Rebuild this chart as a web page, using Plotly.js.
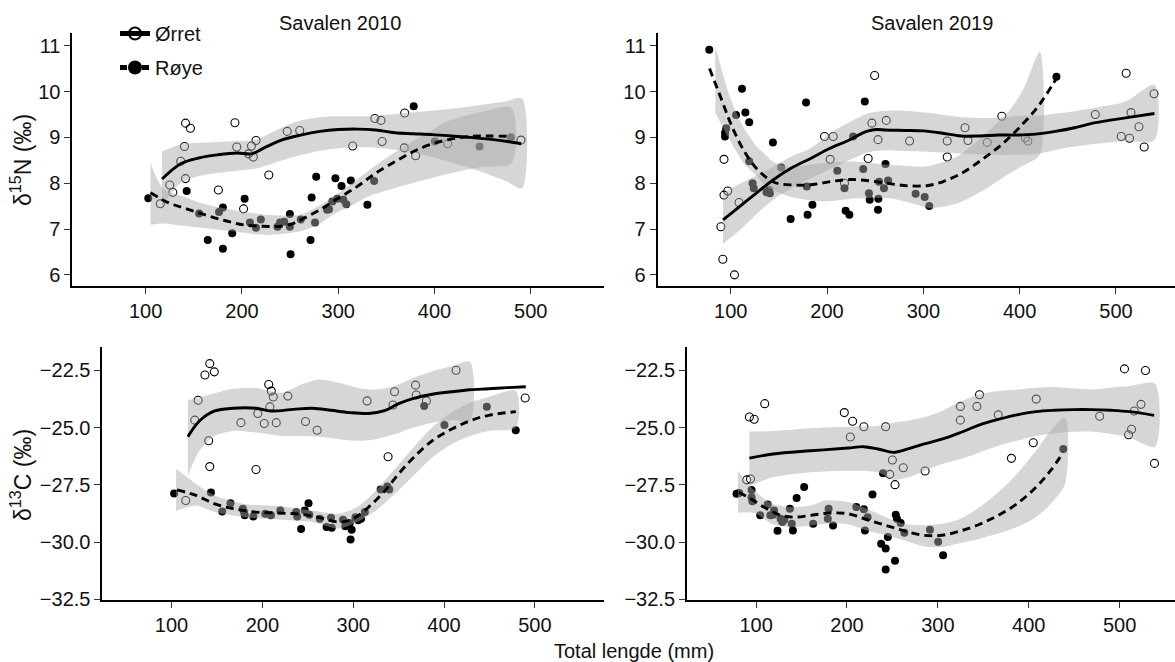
<!DOCTYPE html>
<html><head><meta charset="utf-8">
<script src="https://cdn.plot.ly/plotly-3.0.1.min.js"></script>
<style>html,body{margin:0;padding:0;background:#fff}#chart{width:1175px;height:662px}</style>
</head><body><div id="chart"></div>
<script>
// ---------- Panel 1: Savalen 2010, d15N ----------
const p1OrretX = [115.2,125,128.2,136.4,141.4,146.5,140.3,141.4,175.5,192.7,194.6,201.7,206.8,209.9,211.8,214.6,227.9,247,260,315,338,344.4,345.6,369,368.6,380.4,413.6,489.8];
const p1OrretY = [7.55,7.96,7.80,8.48,9.31,9.20,8.80,8.10,7.85,9.32,8.79,7.44,8.64,8.81,8.57,8.93,8.18,9.13,9.15,8.81,9.41,9.37,8.91,9.53,8.77,8.60,8.86,8.94];
const p1RoyeX = [102.7,142.6,155.5,164.5,176.2,180.2,180.2,189.9,202.8,208.3,214.6,219.6,236.9,239.6,243.9,249.8,249.8,250.5,261.1,271.3,272.4,275.9,277.1,288.5,290.4,293.9,297.1,299,303.4,305.3,308.4,313.1,330.3,337.3,378.4,400.3,446.8,479.3];
const p1RoyeY = [7.67,7.83,7.34,6.76,7.37,7.47,6.57,6.91,7.66,7.14,7.03,7.21,7.05,7.14,7.16,7.33,7.05,6.45,7.21,6.76,7.69,7.14,8.14,7.42,7.43,7.60,8.11,7.66,7.94,7.64,7.54,8.06,7.53,8.05,9.68,8.91,8.80,9.00];
const p1OrretFitX = [117,136,155,175,195,210,222,241,261,281,300,320,339,359,378,398,417,437,457,476,490];
const p1OrretFitY = [8.09,8.42,8.55,8.62,8.66,8.64,8.76,8.94,9.05,9.13,9.17,9.18,9.16,9.10,9.08,9.06,9.03,9.00,8.96,8.91,8.86];
const p1OrretBandX = [117,135,155,175,195,215,235,255,275,295,315,335,355,375,395,415,435,455,475,491];
const p1OrretBandLo = [7.50,7.98,8.15,8.22,8.27,8.32,8.45,8.58,8.68,8.75,8.78,8.78,8.74,8.68,8.58,8.47,8.35,8.20,8.04,7.89];
const p1OrretBandHi = [8.69,8.84,8.88,8.90,8.92,8.95,9.15,9.33,9.42,9.46,9.46,9.46,9.50,9.54,9.58,9.62,9.67,9.73,9.79,9.85];
const p1RoyeFitX = [105,124,144,163,183,202,222,241,253,261,281,300,320,339,359,378,398,417,437,457,479];
const p1RoyeFitY = [7.79,7.57,7.43,7.30,7.18,7.09,7.06,7.06,7.12,7.20,7.42,7.67,7.93,8.22,8.47,8.69,8.86,8.96,9.02,9.03,9.02];
const p1RoyeBandX = [105,118,139,160,190,225,260,280,295,312,330,360,395,413,447,480];
const p1RoyeBandHi = [8.45,7.89,7.71,7.55,7.42,7.31,7.31,7.50,7.71,7.96,8.25,8.69,9.13,9.35,9.55,9.64];
const p1RoyeBandLo = [7.09,7.12,7.07,7.02,6.95,6.87,6.95,7.10,7.32,7.49,7.70,7.90,8.10,8.20,8.35,8.44];

// ---------- Panel 2: Savalen 2019, d15N ----------
const p2OrretX = [89.8,91.8,103.9,93,93,96.9,108.6,197.4,206.4,203.2,218.1,242.7,246.6,249.4,252.9,261.5,285.7,324.8,324.8,343.2,346.3,366.3,381.5,405.8,408.5,478.5,505.5,510.6,514.1,515.6,523.9,529.3,539.5];
const p2OrretY = [7.05,6.34,6.00,8.52,7.74,7.83,7.58,9.02,9.02,8.52,8.00,8.54,9.31,10.35,8.95,9.37,8.92,8.92,8.57,9.21,8.93,8.89,9.46,8.99,8.92,9.50,9.02,10.40,8.98,9.54,9.23,8.79,9.95];
const p2RoyeX = [77.7,94.1,94.1,95.3,105.5,111.7,115.2,119.2,119.2,122.7,123.9,137.1,139.9,140.7,143.8,152.4,162.2,178.2,179,179.8,184.8,210.7,218.1,219.3,223.2,227.1,237.6,239.2,243.5,244.3,252.9,253.3,254,259.1,260.7,263.4,292,301.4,306.1,438.2];
const p2RoyeY = [10.91,9.02,9.10,9.20,9.49,10.06,9.54,9.33,8.48,8.00,7.89,7.80,7.85,7.78,8.89,8.34,7.22,9.76,7.93,7.31,7.53,8.27,7.89,7.40,7.31,9.02,8.31,9.78,7.78,7.64,7.42,7.66,8.03,7.89,8.42,8.06,7.77,7.70,7.50,10.32];
const p2OrretFitX = [92,105,124,144,163,183,202,222,241,251,261,281,300,320,339,359,378,398,417,437,457,476,496,515,540];
const p2OrretFitY = [7.20,7.42,7.74,8.07,8.33,8.54,8.75,8.93,9.13,9.17,9.16,9.15,9.14,9.09,9.03,9.03,9.05,9.05,9.07,9.13,9.21,9.31,9.38,9.44,9.52];
const p2OrretBandX = [92,108,124,144,163,183,206,225,244,262,280,307,335,369,400,420,450,480,510,540];
const p2OrretBandHi = [7.78,7.97,8.14,8.36,8.58,8.76,9.12,9.35,9.53,9.58,9.58,9.53,9.45,9.42,9.47,9.48,9.55,9.65,9.78,10.14];
const p2OrretBandLo = [6.68,6.95,7.27,7.64,7.89,8.10,8.33,8.52,8.68,8.72,8.70,8.68,8.65,8.62,8.62,8.65,8.78,8.86,8.92,8.94];
const p2RoyeFitX = [78,90,100,110,120,130,145,165,185,205,225,245,265,285,305,320,340,360,380,400,420,438];
const p2RoyeFitY = [10.50,9.85,9.30,8.85,8.50,8.25,8.02,7.96,7.97,8.04,8.08,8.05,7.99,7.94,7.95,8.03,8.22,8.50,8.82,9.22,9.70,10.28];
const p2RoyeBandX = [84,99,113,127,137,144,161,196,231,265,300,307,335,369,390,405,421];
const p2RoyeBandHi = [10.98,9.89,9.23,8.80,8.60,8.47,8.36,8.44,8.47,8.40,8.36,8.38,8.58,9.16,9.60,10.10,10.87];
const p2RoyeBandLo = [9.53,8.94,8.45,8.15,7.93,7.85,7.71,7.60,7.67,7.67,7.49,7.45,7.56,7.93,8.22,8.40,8.62];

// ---------- Panel 3: Savalen 2010, d13C ----------
const p3OrretX = [115.7,125.6,129.3,136.8,142.1,147.1,140.9,142.1,176.4,195,193,202.1,207,208.3,209.9,212,215.3,228.1,247.5,260.3,315.3,338.4,343.8,345.5,368.6,369.4,380.6,413.2,489.3];
const p3OrretY = [-28.18,-24.67,-23.80,-22.70,-22.20,-22.56,-25.57,-26.70,-24.78,-24.38,-26.83,-24.82,-23.11,-24.09,-23.40,-23.66,-24.78,-23.62,-24.73,-25.11,-23.83,-26.27,-24.01,-23.43,-23.14,-23.57,-23.83,-22.49,-23.70];
const p3RoyeX = [102.9,143.4,155.8,164.9,178.5,180.6,179.8,190.1,203.3,209.5,219.8,237.2,238.4,242.6,246.7,250.8,251.7,263.2,270.7,275.6,276.4,288.8,291.3,296.3,298.3,297.1,302.5,305.4,308.7,312.8,330.2,337.6,339.7,378.1,400.4,447.1,478.9];
const p3RoyeY = [-27.88,-27.83,-28.66,-28.30,-28.54,-28.83,-28.69,-28.88,-28.76,-28.83,-28.62,-28.69,-28.88,-29.43,-28.62,-28.30,-28.80,-28.98,-29.34,-28.94,-29.37,-29.02,-29.31,-29.17,-29.46,-29.89,-28.91,-29.05,-28.98,-28.69,-27.70,-27.57,-27.70,-24.05,-24.88,-24.09,-25.11];
const p3OrretFitX = [118,131,147.5,168,193,209.5,234,255,275.5,296,317,333.5,350,366.5,387,408,428.5,449,470,490];
const p3OrretFitY = [-25.40,-24.70,-24.27,-24.15,-24.15,-24.27,-24.20,-24.15,-24.24,-24.34,-24.38,-24.27,-23.95,-23.72,-23.54,-23.43,-23.34,-23.30,-23.25,-23.21];
const p3OrretBandX = [118,131,147.5,168,193,222,243,263,284,304.5,325,346,366.5,387,408,428.5];
const p3OrretBandHi = [-23.80,-23.68,-23.50,-23.30,-23.27,-23.47,-23.11,-22.89,-23.04,-23.25,-23.33,-23.18,-22.82,-22.53,-22.31,-22.12];
const p3OrretBandLo = [-27.09,-26.00,-25.36,-25.14,-25.21,-25.36,-25.36,-25.40,-25.50,-25.57,-25.50,-25.28,-24.99,-24.78,-24.67,-24.70];
const p3RoyeFitX = [106,127,147.5,168,193,218,243,263,284,300,317,333.5,350,366.5,387,408,428.5,449,479];
const p3RoyeFitY = [-27.72,-27.96,-28.33,-28.54,-28.69,-28.73,-28.79,-28.93,-29.12,-28.98,-28.47,-27.82,-27.02,-26.30,-25.57,-25.07,-24.70,-24.46,-24.30];
const p3RoyeBandX = [105,127,147.5,180.6,222,255,284,304.5,325,346,366.5,387,408,428.5,449,479];
const p3RoyeBandHi = [-26.80,-27.46,-27.96,-28.33,-28.44,-28.62,-28.76,-28.47,-27.75,-26.80,-25.86,-24.99,-24.34,-23.91,-23.66,-23.40];
const p3RoyeBandLo = [-28.64,-28.40,-28.69,-28.91,-29.02,-29.12,-29.41,-29.12,-28.62,-27.89,-27.09,-26.30,-25.72,-25.36,-25.14,-24.99];

// ---------- Panel 4: Savalen 2019, d13C ----------
const p4OrretX = [89.7,93.8,92.6,97.9,109.5,197.1,206.2,203.7,218.6,242.6,250,247.1,252.9,262,286,324.8,324.8,343,345.9,366.5,381,405,408.3,478.1,505.4,509.9,513.2,516.1,523.6,528.5,538.4];
const p4OrretY = [-27.28,-27.24,-24.53,-24.63,-23.95,-24.34,-24.72,-25.41,-24.96,-24.96,-26.41,-27.04,-27.49,-26.75,-26.89,-24.07,-24.67,-24.07,-23.56,-24.44,-26.34,-25.66,-23.75,-24.50,-22.43,-25.31,-25.07,-24.27,-23.98,-22.50,-26.56];
const p4RoyeX = [78.5,81.4,95,95,95.9,104.5,112.8,115.7,118.6,119.8,123.6,126.9,128.9,131,137.2,139.3,140.5,144.6,152.9,162.8,179.8,178.9,184.7,210.3,218.6,219.8,222.7,228.1,237.6,239.7,242.6,245,242.6,252.9,253.7,255,259.1,263.2,291.3,300.4,305.8,438];
const p4RoyeY = [-27.89,-27.86,-27.72,-28.04,-28.22,-28.83,-28.36,-28.83,-28.80,-28.62,-29.51,-28.98,-29.12,-29.02,-28.54,-29.20,-29.49,-28.07,-27.59,-29.20,-28.54,-28.98,-29.27,-28.47,-28.56,-29.49,-28.91,-27.92,-30.07,-26.99,-30.28,-29.78,-31.20,-30.82,-28.80,-28.98,-29.17,-29.59,-29.46,-29.99,-30.57,-25.93];
const p4OrretFitX = [92.6,118.6,160,201,218,234,251,267,284,304.5,325,346,366.5,387,408,428.5,449,470,490.5,511,538];
const p4OrretFitY = [-26.33,-26.15,-26.01,-25.89,-25.83,-25.93,-26.08,-25.93,-25.72,-25.50,-25.21,-24.88,-24.64,-24.44,-24.30,-24.24,-24.21,-24.21,-24.24,-24.30,-24.46];
const p4OrretBandX = [92.6,118.6,160,201,234,251,267,284,304.5,325,346,366.5,387,408,428.5,449,470,490.5,511,539];
const p4OrretBandHi = [-25.17,-25.14,-25.02,-24.96,-24.92,-24.78,-24.70,-24.56,-24.27,-23.86,-23.54,-23.40,-23.33,-23.25,-23.22,-23.28,-23.33,-23.25,-23.18,-23.08];
const p4OrretBandLo = [-27.56,-27.17,-26.95,-26.88,-26.95,-27.28,-27.17,-26.91,-26.59,-26.37,-26.08,-25.79,-25.57,-25.36,-25.25,-25.18,-25.17,-25.28,-25.43,-25.83];
const p4RoyeFitX = [81,94,110,127,143,160,181,201,222,243,263,284,304.5,325,346,366.5,387,408,424,438];
const p4RoyeFitY = [-27.82,-28.11,-28.50,-28.83,-28.91,-28.83,-28.73,-28.76,-29.02,-29.27,-29.51,-29.70,-29.70,-29.51,-29.22,-28.83,-28.33,-27.60,-26.88,-26.08];
const p4RoyeBandX = [80,98,118.6,139,160,176,201,222,243,263,284,304.5,325,346,366.5,387,408,424,440];
const p4RoyeBandHi = [-26.88,-27.75,-28.33,-28.47,-28.40,-28.18,-28.25,-28.54,-28.91,-29.20,-29.27,-29.20,-28.98,-28.47,-27.82,-27.02,-26.01,-25.14,-24.56];
const p4RoyeBandLo = [-28.72,-28.73,-29.22,-29.34,-29.27,-29.20,-29.22,-29.49,-29.70,-29.92,-30.18,-30.21,-30.04,-29.85,-29.63,-29.34,-28.91,-28.33,-27.46];

// ---------- Text ----------
const panelTitles = ["Savalen 2010", "Savalen 2019"];
const yTitles = ["δ<sup>15</sup>N (‰)", "δ<sup>13</sup>C (‰)"];
const xTitle = "Total lengde (mm)";
const speciesNames = ["Ørret", "Røye"];
const xTicks = [100, 200, 300, 400, 500];
const yTicksN = [6, 7, 8, 9, 10, 11];
const yTicksC = [-32.5, -30, -27.5, -25, -22.5];

const FONT = "Liberation Sans, Arial, Helvetica, sans-serif";
const BAND = "rgba(168,168,168,0.475)";

function band(x, lo, hi, xa, ya) {
  return {x: x.concat(x.slice().reverse()), y: hi.concat(lo.slice().reverse()),
    xaxis: xa, yaxis: ya, type: "scatter", mode: "lines", fill: "toself",
    fillcolor: BAND, line: {width: 0, shape: "spline", smoothing: 0.8}, hoverinfo: "skip", showlegend: false};
}
function fit(x, y, xa, ya, dash) {
  return {x: x, y: y, xaxis: xa, yaxis: ya, type: "scatter", mode: "lines",
    line: {color: "#000", width: 2.9, shape: "spline", smoothing: 1, dash: dash}, showlegend: false};
}
function pts(x, y, xa, ya, open) {
  return {x: x, y: y, xaxis: xa, yaxis: ya, type: "scatter", mode: "markers", showlegend: false,
    marker: open ? {symbol: "circle-open", size: 8, color: "#000", line: {width: 1.1}}
                 : {symbol: "circle", size: 8, color: "#000", line: {width: 0}}};
}
function panel(xa, ya, oX, oY, rX, rY, oBX, oBL, oBH, rBX, rBL, rBH, oFX, oFY, rFX, rFY) {
  return [pts(oX, oY, xa, ya, true), pts(rX, rY, xa, ya, false),
    band(oBX, oBL, oBH, xa, ya), band(rBX, rBL, rBH, xa, ya),
    fit(oFX, oFY, xa, ya, "solid"), fit(rFX, rFY, xa, ya, "8px,5px")];
}

const data = [].concat(
  panel("x", "y", p1OrretX, p1OrretY, p1RoyeX, p1RoyeY, p1OrretBandX, p1OrretBandLo, p1OrretBandHi, p1RoyeBandX, p1RoyeBandLo, p1RoyeBandHi, p1OrretFitX, p1OrretFitY, p1RoyeFitX, p1RoyeFitY),
  panel("x2", "y2", p2OrretX, p2OrretY, p2RoyeX, p2RoyeY, p2OrretBandX, p2OrretBandLo, p2OrretBandHi, p2RoyeBandX, p2RoyeBandLo, p2RoyeBandHi, p2OrretFitX, p2OrretFitY, p2RoyeFitX, p2RoyeFitY),
  panel("x3", "y3", p3OrretX, p3OrretY, p3RoyeX, p3RoyeY, p3OrretBandX, p3OrretBandLo, p3OrretBandHi, p3RoyeBandX, p3RoyeBandLo, p3RoyeBandHi, p3OrretFitX, p3OrretFitY, p3RoyeFitX, p3RoyeFitY),
  panel("x4", "y4", p4OrretX, p4OrretY, p4RoyeX, p4RoyeY, p4OrretBandX, p4OrretBandLo, p4OrretBandHi, p4RoyeBandX, p4RoyeBandLo, p4RoyeBandHi, p4OrretFitX, p4OrretFitY, p4RoyeFitX, p4RoyeFitY),
  [
    {x: [null], y: [null], type: "scatter", mode: "lines+markers", name: speciesNames[0], legendgroup: "a",
     line: {color: "#000", width: 5}, marker: {symbol: "circle-open", size: 12, color: "#000", line: {width: 2}}},
    {x: [null], y: [null], type: "scatter", mode: "lines+markers", name: speciesNames[1], legendgroup: "b",
     line: {color: "#000", width: 5, dash: "7px,4px"}, marker: {symbol: "circle", size: 14, color: "#000"}}
  ]
);

const axBase = {showline: true, linewidth: 2, linecolor: "#000", ticks: "outside", ticklen: 6,
  tickwidth: 1, tickcolor: "#333", showgrid: false, zeroline: false, fixedrange: true,
  tickfont: {family: FONT, size: 20, color: "#111"}};
const xa = (dom, rng, anchor) => Object.assign({}, axBase, {domain: dom, range: rng, anchor: anchor, tickvals: xTicks});
const yN = (dom, anchor) => Object.assign({}, axBase, {domain: dom, range: [5.757, 11.27], anchor: anchor, tickvals: yTicksN});
const yC = (dom, anchor) => Object.assign({}, axBase, {domain: dom, range: [-32.53, -21.46], anchor: anchor, tickvals: yTicksC, tickformat: ".1f"});

const topDom = [0.5680, 0.9497], botDom = [0.0937, 0.4763];
const ann = (t, x, y, extra) => Object.assign({text: t, x: x, y: y, xref: "paper", yref: "paper",
  showarrow: false, font: {family: FONT, size: 20, color: "#111"}, xanchor: "center", yanchor: "middle"}, extra || {});

const layout = {
  width: 1175, height: 662, margin: {l: 0, r: 0, t: 0, b: 0},
  paper_bgcolor: "#fff", plot_bgcolor: "rgba(0,0,0,0)",
  font: {family: FONT, size: 20, color: "#111"},
  xaxis: xa([0.0617, 0.5140], [24, 576], "y"), yaxis: yN(topDom, "x"),
  xaxis2: xa([0.5596, 1], [24, 561.3], "y2"), yaxis2: yN(topDom, "x2"),
  xaxis3: xa([0.0872, 0.5140], [24, 576], "y3"), yaxis3: yC(botDom, "x3"),
  xaxis4: xa([0.5847, 1], [24, 561], "y4"), yaxis4: yC(botDom, "x4"),
  showlegend: true,
  legend: {x: 115/1175, y: 1 - 14/662, xanchor: "left", yanchor: "top", bgcolor: "rgba(0,0,0,0)",
    font: {family: FONT, size: 20, color: "#111"}, tracegroupgap: 5, itemwidth: 30},
  annotations: [
    ann(panelTitles[0], 340/1175, 1 - 23/662),
    ann(panelTitles[1], 932/1175, 1 - 23/662),
    ann(yTitles[0], 21/1175, 1 - 160/662, {textangle: -90, font: {family: FONT, size: 23, color: "#111"}}),
    ann(yTitles[1], 21/1175, 1 - 475/662, {textangle: -90, font: {family: FONT, size: 23, color: "#111"}}),
    ann(xTitle, 634/1175, 1 - 651/662)
  ]
};
Plotly.newPlot("chart", data, layout, {displayModeBar: false, staticPlot: true});
</script></body></html>
